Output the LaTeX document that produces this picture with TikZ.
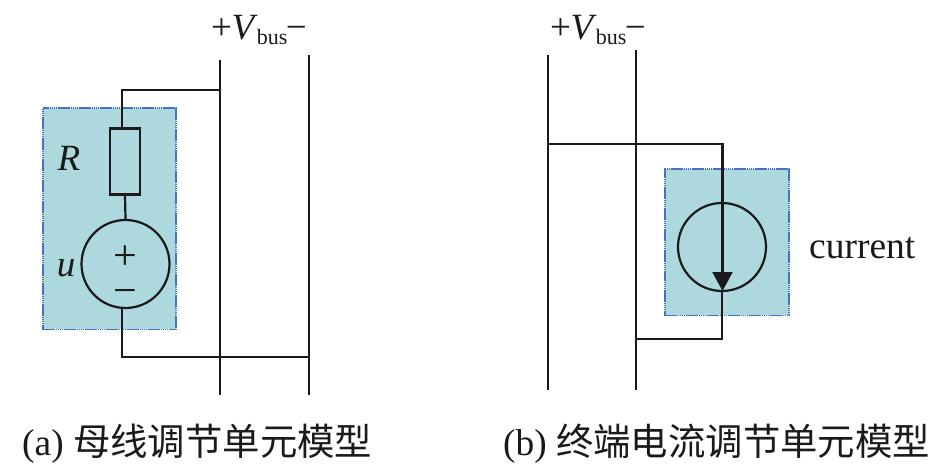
\documentclass[tikz,border=0pt]{standalone}
\usepackage{fontspec}
\setmainfont{Liberation Serif}
\newfontfamily\cjk{Noto Sans CJK SC}
\usetikzlibrary{arrows.meta}
\definecolor{tealfill}{HTML}{ADD8DE}
\definecolor{boxedge}{HTML}{4472C4}
\definecolor{ink}{HTML}{1A1A1A}
\tikzset{
  wire/.style={draw=ink,line width=2.2pt},
  unitbox/.style={draw=boxedge,fill=tealfill,line width=1.8pt,dash pattern=on 1.6pt off 0.5pt,inner sep=0pt,anchor=north west},
  resbox/.style={draw=ink,line width=2.2pt,inner sep=0pt,minimum width=30pt,minimum height=66pt},
  source/.style={draw=ink,line width=2.2pt,circle,inner sep=0pt,minimum size=88pt},
  lab/.style={text=ink,inner sep=0pt},
  captext/.style={text=ink,inner sep=0pt,font=\fontsize{37.4}{37.4}\selectfont,anchor=west},
  bigtext/.style={lab,font=\fontsize{37.5}{37.5}\selectfont}
}
\newcommand{\vbuslabel}{\makebox[18pt]{+}\kern1pt\textit{V}\kern-1pt{\fontsize{22}{22}\selectfont\raisebox{-5pt}{bus}}\kern1pt\makebox[16pt]{\char"2212}}
\begin{document}
\begin{tikzpicture}[x=1pt,y=-1pt]
\useasboundingbox (0,0) rectangle (945,473);
% left panel
\node[unitbox,minimum width=133pt,minimum height=221pt] (boxa) at (42,107.5) {};
\node[resbox] (res) at (125,161.5) {};
\node[source] (srca) at (125.5,264) {};
\coordinate (a1t) at (220,60); \coordinate (a1b) at (220,395);
\coordinate (a2t) at (309,55); \coordinate (a2b) at (309,395);
\coordinate (a1j) at (220,90); \coordinate (a2j) at (310,357);
\draw[wire] (a1t) -- (a1b);
\draw[wire] (a2t) -- (a2b);
\draw[wire] (a1j) -| (122,128);
\draw[wire] (res.south) -- (srca.north);
\draw[wire] (122,308) |- (a2j);
\node[lab,font=\fontsize{42}{42}\selectfont] (plusa) at (125,258) {+};
\node[lab,font=\fontsize{42}{42}\selectfont] (minusa) at (125,297) {\char"2212};
\node[lab,font=\fontsize{37}{37}\selectfont\itshape] (rlab) at (69,158) {R};
\node[lab,font=\fontsize{37}{37}\selectfont\itshape] (ulab) at (66,268) {u};
\node[lab,anchor=base,font=\fontsize{37}{37}\selectfont] (vbusa) at (258.5,40) {\vbuslabel};
% right panel
\node[unitbox,minimum width=124pt,minimum height=146pt] (boxb) at (664,168.5) {};
\node[source] (srcb) at (722,247) {};
\coordinate (b1t) at (548,55); \coordinate (b1b) at (548,390);
\coordinate (b2t) at (636,50); \coordinate (b2b) at (636,390);
\coordinate (b1j) at (548,144); \coordinate (b2j) at (636,339);
\coordinate (tip) at (722.5,291);
\draw[wire] (b1t) -- (b1b);
\draw[wire] (b2t) -- (b2b);
\draw[wire,-{Triangle[length=19pt,width=20pt,fill=ink]}] (b1j) -| (tip);
\draw[wire] (722,290) |- (b2j);
\node[bigtext,anchor=west] (cur) at (809,248) {current};
\node[lab,anchor=base,font=\fontsize{37}{37}\selectfont] (vbusb) at (597.5,40) {\vbuslabel};
% captions
\node[captext] (capa) at (22,444) {(a) {\cjk 母线调节单元模型}};
\node[captext] (capb) at (503,444) {(b) {\cjk 终端电流调节单元模型}};
\end{tikzpicture}
\end{document}
